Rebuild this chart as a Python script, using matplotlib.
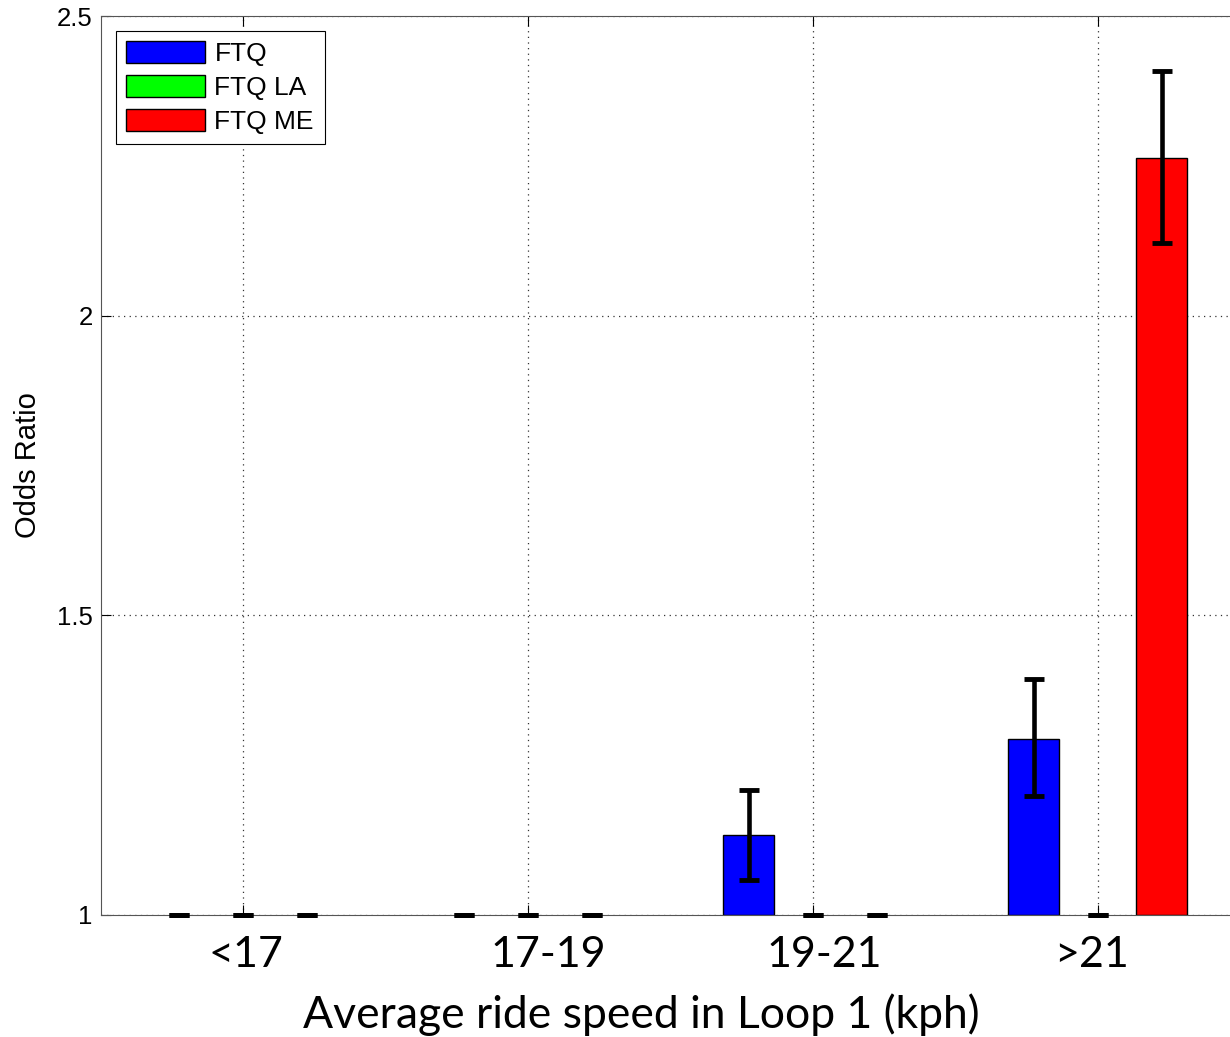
import numpy as np
import matplotlib.pyplot as plt
from matplotlib.patches import Patch

# odds ratios per speed band
categories = ['<17', '17-19', '19-21', '>21']
series = ['FTQ', 'FTQ LA', 'FTQ ME']
ftq = [1.0, 1.0, 1.133, 1.293]
ftq_lo = [1.0, 1.0, 1.058, 1.198]
ftq_hi = [1.0, 1.0, 1.208, 1.393]
ftq_la = [1.0, 1.0, 1.0, 1.0]
ftq_la_lo = [1.0, 1.0, 1.0, 1.0]
ftq_la_hi = [1.0, 1.0, 1.0, 1.0]
ftq_me = [1.0, 1.0, 1.0, 2.263]
ftq_me_lo = [1.0, 1.0, 1.0, 2.122]
ftq_me_hi = [1.0, 1.0, 1.0, 2.408]
yticks = [1, 1.5, 2, 2.5]

colors = ['#0000ff', '#00ff00', '#ff0000']
offsets = [-0.225, 0.0, 0.225]
width = 0.18
label_shift = [0.01, 0.07, 0.04, -0.02]

fig = plt.figure(figsize=(12.3, 10.37), dpi=100)
ax = fig.add_axes([101/1230, 122/1037, 1139/1230, 899/1037])

x = np.arange(1, len(categories) + 1)
vals = [ftq, ftq_la, ftq_me]
los = [ftq_lo, ftq_la_lo, ftq_me_lo]
his = [ftq_hi, ftq_la_hi, ftq_me_hi]
for i in range(len(series)):
    v = np.array(vals[i])
    # matlab draws nothing for a bar sitting on the baseline
    edges = ['black' if h > 0 else 'none' for h in v - 1]
    ax.bar(x + offsets[i], v - 1, width, bottom=1, color=colors[i],
           edgecolor=edges, linewidth=1, zorder=2)
    yerr = [v - np.array(los[i]), np.array(his[i]) - v]
    ax.errorbar(x + offsets[i], v, yerr=yerr, fmt='none', ecolor='black',
                elinewidth=3.3, capsize=7, capthick=3.5, zorder=3, clip_on=False)

ax.set_xlim(0.5, 4.5)
ax.set_ylim(1, 2.5)
ax.set_xticks(x)
ax.set_xticklabels([])
ax.set_yticks(yticks)
ax.set_yticklabels(['1', '1.5', '2', '2.5'], fontsize=18.5, family='Liberation Sans')
ax.tick_params(direction='in', top=True, right=True, length=7, width=0.8, pad=6)
ax.grid(True, linestyle=(0, (1, 3.5)), color='#333333', linewidth=0.9)
ax.set_axisbelow(True)
for s in ax.spines.values():
    s.set_color('#555555')

for i, c in enumerate(categories):
    ax.text(x[i] + label_shift[i], -0.045, c, transform=ax.get_xaxis_transform(),
            ha='center', va='center', fontsize=31, family='Lato')

ax.set_ylabel('Odds Ratio', fontsize=21, family='Liberation Sans')
ax.yaxis.set_label_coords(-0.052, 0.5)
fig.text(641/1230, 1 - 1015/1037, 'Average ride speed in Loop 1 (kph)',
         ha='center', va='center', fontsize=32, family='Lato')

handles = [Patch(facecolor=colors[i], edgecolor='black', linewidth=1, label=series[i])
           for i in range(len(series))]
leg = ax.legend(handles=handles, loc='upper left', bbox_to_anchor=(0.0, 1.0),
                borderaxespad=0.55,
                prop={'family': 'Liberation Sans', 'size': 19},
                handlelength=3.0, handleheight=0.9, handletextpad=0.35,
                labelspacing=0.33, borderpad=0.4, fancybox=False,
                framealpha=1, edgecolor='black')
leg.get_frame().set_linewidth(0.8)

fig.savefig('out.png', dpi=100)
